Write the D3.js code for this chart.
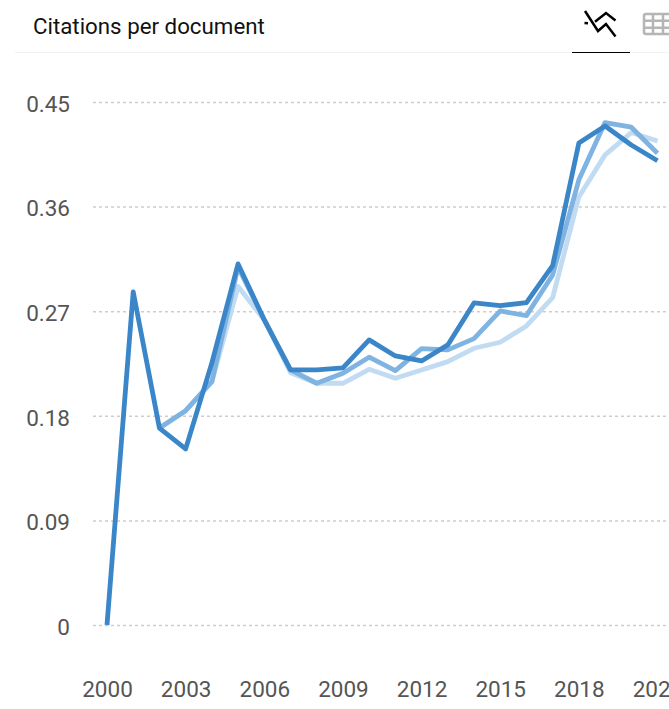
<!DOCTYPE html>
<html lang="en">

<head>
    <meta charset="UTF-8">
    <title>Citations per document</title>
    <script src="https://d3js.org/d3.v7.min.js"></script>
    <style>
        html, body { margin: 0; padding: 0; overflow: hidden; background: #fff; }
        text { font-family: Roboto, sans-serif; }
        .tick text { font-size: 22.5px; fill: #555; }
        .y-axis .tick line { stroke: #cdcdcd; stroke-width: 1.5; stroke-dasharray: 3 3; }
        .y-axis .tick text { transform: translateY(2px); }
        .domain { display: none; }
        .x-axis .tick line { display: none; }
    </style>
</head>

<body>
    <div id="chart"></div>

    <script>
        const years = d3.range(2000, 2022);
        const yTicks = [0, 0.09, 0.18, 0.27, 0.36, 0.45];
        const xTicks = [2000, 2003, 2006, 2009, 2012, 2015, 2018, 2021];

        // null = no value for that year
        const seriesDark = [0, 0.2866, 0.1695, 0.1515, 0.2255, 0.3107, 0.2625, 0.2195, 0.2195, 0.2212, 0.2453,
            0.2315, 0.2272, 0.241, 0.2771, 0.2748, 0.2774, 0.3092, 0.4148, 0.4294, 0.413, 0.3995];
        const seriesMid = [null, null, 0.1695, 0.1844, 0.2094, 0.308, 0.2625, 0.2195, 0.208, 0.2166, 0.2304,
            0.2189, 0.2378, 0.2367, 0.2464, 0.2702, 0.2662, 0.3012, 0.383, 0.4323, 0.4283, 0.4059];
        const seriesLight = [null, null, 0.1695, 0.1844, 0.2094, 0.2912, 0.2625, 0.2171, 0.208, 0.208, 0.22,
            0.2123, 0.2194, 0.2266, 0.2381, 0.2433, 0.2573, 0.2817, 0.3683, 0.4045, 0.4237, 0.4165];

        const width = 669;
        const height = 709;

        const svg = d3.select("#chart")
            .append("svg")
            .attr("width", width)
            .attr("height", height)
            .style("display", "block");

        const xScale = d3.scaleLinear().domain([2000, 2021]).range([107, 657.5]);
        const yScale = d3.scaleLinear().domain([0, 0.45]).range([625, 102]);

        // header
        svg.append("text")
            .attr("x", 33)
            .attr("y", 33.5)
            .attr("font-size", 22.3)
            .attr("fill", "#111")
            .text("Citations per document");

        svg.append("line")
            .attr("x1", 15).attr("x2", width)
            .attr("y1", 52.5).attr("y2", 52.5)
            .attr("stroke", "#f2f2f2");

        svg.append("line")
            .attr("x1", 572).attr("x2", 630)
            .attr("y1", 52.5).attr("y2", 52.5)
            .attr("stroke", "#000")
            .attr("stroke-width", 1);

        // chart tab icon
        svg.append("path")
            .attr("d", "M585 11L598 31L606 24L615.5 36.5M595 21.7L606 13L615.5 20.5M584.5 23L588 23.3")
            .attr("fill", "none")
            .attr("stroke", "#000")
            .attr("stroke-width", 2.5);

        // table tab icon
        svg.append("rect")
            .attr("x", 644).attr("y", 14)
            .attr("width", 30).attr("height", 20)
            .attr("rx", 2)
            .attr("fill", "none")
            .attr("stroke", "#b5b5b5")
            .attr("stroke-width", 2.5);

        svg.append("path")
            .attr("d", "M644 20.7H672M644 27.7H672M653 14V34M663 14V34")
            .attr("fill", "none")
            .attr("stroke", "#b5b5b5")
            .attr("stroke-width", 2.5);

        // axes
        svg.append("g")
            .attr("class", "y-axis")
            .attr("transform", "translate(93, 0)")
            .call(d3.axisLeft(yScale)
                .tickValues(yTicks)
                .tickSize(-(width - 93))
                .tickPadding(23)
                .tickFormat(d => d === 0 ? "0" : d3.format(".2f")(d)));

        svg.append("g")
            .attr("class", "x-axis")
            .attr("transform", "translate(0, 677)")
            .call(d3.axisBottom(xScale)
                .tickValues(xTicks)
                .tickSize(0)
                .tickPadding(4)
                .tickFormat(d3.format("d")));

        const line = d3.line()
            .defined(d => d !== null)
            .x((d, i) => xScale(years[i]))
            .y(d => yScale(d));

        svg.selectAll("path.series")
            .data([
                { values: seriesLight, color: "#c0dbf2" },
                { values: seriesMid, color: "#7fb3e1" },
                { values: seriesDark, color: "#3a86c8" }
            ])
            .join("path")
            .attr("class", "series")
            .attr("d", d => line(d.values))
            .attr("fill", "none")
            .attr("stroke", d => d.color)
            .attr("stroke-width", 4.8)
            .attr("stroke-linejoin", "round");
    </script>
</body>

</html>
